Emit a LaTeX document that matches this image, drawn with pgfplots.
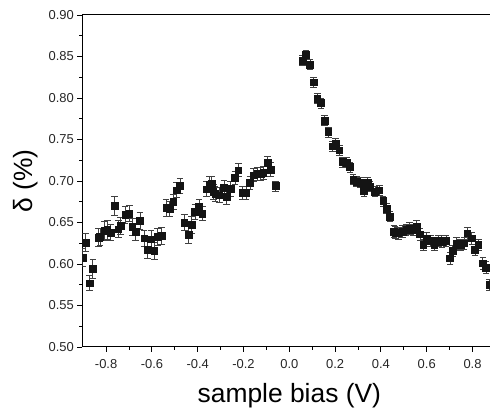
\documentclass[border=0pt]{standalone}
\usepackage{pgfplots}
\pgfplotsset{compat=1.18}
\usepackage{pgfplotstable}
\usepackage{fontspec}
\setmainfont{Liberation Sans}
\pgfplotstableread{
x y e
-0.903 0.608 0.011
-0.889 0.626 0.011
-0.873 0.577 0.009
-0.858 0.594 0.011
-0.834 0.632 0.011
-0.827 0.633 0.010
-0.808 0.640 0.011
-0.795 0.641 0.011
-0.780 0.638 0.010
-0.764 0.670 0.011
-0.747 0.642 0.010
-0.736 0.646 0.010
-0.717 0.659 0.010
-0.699 0.661 0.010
-0.686 0.645 0.010
-0.671 0.639 0.010
-0.652 0.652 0.010
-0.634 0.631 0.010
-0.620 0.617 0.010
-0.604 0.630 0.010
-0.590 0.616 0.010
-0.575 0.633 0.010
-0.557 0.634 0.010
-0.538 0.668 0.010
-0.524 0.666 0.009
-0.507 0.675 0.009
-0.492 0.689 0.009
-0.477 0.694 0.009
-0.459 0.650 0.010
-0.441 0.635 0.010
-0.426 0.647 0.010
-0.412 0.663 0.009
-0.394 0.669 0.009
-0.380 0.661 0.009
-0.361 0.690 0.009
-0.349 0.696 0.009
-0.339 0.697 0.009
-0.332 0.687 0.009
-0.324 0.685 0.009
-0.306 0.683 0.009
-0.285 0.692 0.009
-0.273 0.681 0.009
-0.256 0.691 0.009
-0.237 0.704 0.008
-0.223 0.713 0.008
-0.204 0.686 0.008
-0.189 0.686 0.008
-0.172 0.698 0.008
-0.157 0.707 0.008
-0.140 0.709 0.008
-0.125 0.709 0.008
-0.114 0.710 0.008
-0.094 0.722 0.008
-0.081 0.714 0.008
-0.061 0.694 0.006
0.058 0.845 0.006
0.073 0.852 0.006
0.090 0.840 0.006
0.105 0.819 0.006
0.122 0.799 0.006
0.138 0.794 0.006
0.153 0.773 0.006
0.170 0.759 0.006
0.188 0.742 0.006
0.203 0.745 0.006
0.218 0.737 0.006
0.233 0.723 0.006
0.251 0.722 0.006
0.265 0.717 0.006
0.279 0.702 0.006
0.294 0.699 0.006
0.312 0.698 0.006
0.326 0.688 0.006
0.341 0.698 0.006
0.352 0.693 0.006
0.374 0.687 0.006
0.393 0.689 0.006
0.410 0.676 0.006
0.425 0.667 0.006
0.440 0.657 0.006
0.457 0.639 0.007
0.462 0.638 0.007
0.476 0.637 0.007
0.495 0.639 0.007
0.510 0.641 0.007
0.524 0.643 0.007
0.541 0.641 0.007
0.556 0.645 0.007
0.571 0.636 0.007
0.585 0.623 0.007
0.600 0.631 0.007
0.617 0.628 0.007
0.633 0.623 0.007
0.651 0.628 0.007
0.666 0.627 0.007
0.684 0.628 0.007
0.702 0.607 0.007
0.712 0.616 0.007
0.731 0.625 0.007
0.748 0.623 0.007
0.763 0.625 0.007
0.777 0.637 0.007
0.797 0.631 0.007
0.811 0.617 0.007
0.825 0.623 0.007
0.845 0.601 0.007
0.859 0.596 0.007
0.873 0.575 0.007
}\datatable
\begin{document}
\begin{tikzpicture}
\begin{axis}[
  scale only axis, width=407.6bp, height=332bp,
  xmin=-0.904, xmax=0.876, ymin=0.5, ymax=0.9,
  axis x line*=box, axis y line*=left,
  axis line style={line width=1bp, black},
  xtick pos=left, ytick pos=left,
  tick align=outside,
  major tick length=5bp, minor tick length=3bp,
  every tick/.style={black, line width=0.9bp},
  xtick={-0.8,-0.6,-0.4,-0.2,0,0.2,0.4,0.6,0.8},
  minor xtick={-0.7,-0.5,-0.3,-0.1,0.1,0.3,0.5,0.7},
  ytick={0.5,0.55,0.6,0.65,0.7,0.75,0.8,0.85,0.9},
  minor ytick={0.525,0.575,0.625,0.675,0.725,0.775,0.825,0.875},
  tick label style={font=\fontsize{13}{15}\selectfont, text=black!85},
  xticklabel style={yshift=-4bp, /pgf/number format/.cd, fixed, fixed zerofill, precision=1, assume math mode=true},
  yticklabel style={/pgf/number format/.cd, fixed, fixed zerofill, precision=2, assume math mode=true},
  xlabel={sample bias (V)},
  ylabel={δ (\%)},
  label style={font=\fontsize{26.5}{30}\selectfont},
  xlabel style={at={(axis description cs:0.508,-0.1476)}, anchor=center},
  ylabel style={at={(axis description cs:-0.14,0.5)}, anchor=center},
  clip marker paths=true,
]
\addplot[only marks, mark=square*, mark size=3.4pt, mark options={fill=black!92, draw=black!92},
  error bars/.cd, y dir=both, y explicit,
  error bar style={line width=0.7bp, black!75},
  error mark options={rotate=90, mark size=3.3bp, line width=0.7bp, black!75}]
  table[x=x, y=y, y error=e] {\datatable};
\coordinate (o) at (rel axis cs:0,0);
\coordinate (t) at (rel axis cs:1,1);
\end{axis}
\pgfresetboundingbox
\path[use as bounding box] ([shift={(-82.3bp,-63bp)}]o) rectangle ([shift={(2.1bp,15bp)}]t);
\end{tikzpicture}
\end{document}
